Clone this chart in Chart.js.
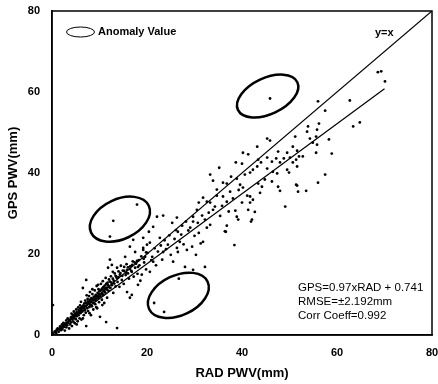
<!DOCTYPE html>
<html>
<head>
<meta charset="utf-8">
<script src="https://cdn.jsdelivr.net/npm/chart.js@4.4.1/dist/chart.umd.min.js"></script>
<style>
  html, body { margin: 0; padding: 0; background: #fff; }
  #wrap { width: 438px; height: 384px; }
</style>
</head>
<body>
<div id="wrap"><canvas id="chart"></canvas></div>
<script>
// RAD PWV (x) vs GPS PWV (y), mm
const samples = [
  [0.6,0.9],[0.9,0.5],[1.2,1.6],[1.4,0.8],[1.7,2.1],[1.9,1.2],[2.1,2.6],[2.2,1.5],[2.4,3.0],[2.5,2.0],
  [2.7,1.1],[2.8,2.8],[3.0,3.6],[3.0,1.9],[3.2,2.4],[3.3,4.1],[3.4,3.0],[3.6,1.6],[3.7,3.5],[3.8,2.6],
  [4.0,4.4],[4.0,3.1],[4.1,5.3],[4.2,2.2],[4.3,3.8],[4.4,4.9],[4.5,3.3],[4.6,5.8],[4.7,4.2],[4.8,2.9],
  [4.9,5.1],[5.0,3.9],[5.1,6.3],[5.2,4.6],[5.3,5.5],[5.4,3.4],[5.5,6.8],[5.6,4.9],[5.7,5.9],[5.8,4.1],
  [5.9,7.3],[6.0,5.4],[6.1,6.4],[6.2,3.8],[6.3,7.0],[6.4,5.8],[6.5,11.6],[6.6,6.7],[6.7,4.9],[6.8,7.8],
  [6.9,6.1],[7.0,8.5],[7.1,5.5],[7.2,13.6],[7.2,7.2],[7.2,2.2],[7.4,6.6],[7.5,8.9],[7.6,5.9],[7.7,7.9],
  [7.8,9.6],[7.9,6.9],[8.0,10.6],[8.0,7.5],[8.1,8.4],[8.2,4.9],[8.3,9.1],[8.4,7.1],[8.5,10.1],[8.6,8.0],
  [8.7,6.3],[8.8,9.4],[8.9,8.6],[9.0,11.0],[9.1,7.6],[9.2,9.9],[9.3,8.9],[9.4,12.1],[9.5,6.6],[9.6,10.4],
  [9.7,9.1],[9.8,11.3],[9.9,8.1],[10.0,10.8],[10.1,4.5],[10.2,9.6],[10.3,12.6],[10.4,10.1],[10.5,8.7],[10.6,11.5],
  [10.7,13.3],[10.8,9.9],[10.9,11.0],[11.0,7.9],[11.1,12.2],[11.2,10.5],[11.3,14.1],[11.4,3.2],[11.5,11.7],[11.6,9.2],
  [11.7,12.9],[11.8,16.6],[11.9,10.9],[12.0,13.7],[12.2,18.6],[12.3,11.6],[12.4,14.5],[12.6,17.3],[12.6,12.3],[12.8,15.6],
  [12.9,10.4],[13.0,13.4],[13.2,15.2],[13.4,12.0],[13.5,14.4],[13.7,1.7],[13.7,16.6],[13.8,13.1],[14.0,15.7],[14.2,11.9],
  [14.3,14.9],[14.5,17.1],[14.7,13.6],[14.9,15.9],[15.1,12.6],[15.2,16.8],[15.4,19.3],[15.5,14.8],[15.7,17.5],[15.8,10.6],
  [15.8,16.1],[16.0,15.2],[16.2,13.9],[16.4,9.2],[16.4,21.8],[16.5,17.0],[16.7,15.8],[16.8,9.9],[16.8,15.6],[17.0,18.2],
  [17.1,23.5],[17.2,14.4],[17.5,16.6],[17.5,20.5],[17.7,17.6],[18.0,15.1],[18.1,12.4],[18.1,16.8],[18.3,18.5],[18.6,13.4],
  [18.9,14.9],[19.2,21.0],[19.2,24.0],[19.2,21.5],[19.4,17.9],[19.6,19.3],[19.8,16.2],[20.0,22.3],[20.1,20.3],[20.4,25.5],
  [20.6,15.6],[20.6,22.8],[20.9,18.5],[21.1,19.3],[21.3,18.1],[21.3,26.7],[21.6,21.4],[21.9,17.2],[22.1,29.2],[22.3,20.6],
  [22.7,24.0],[22.9,22.1],[23.2,18.6],[23.4,20.5],[23.4,29.5],[23.7,23.4],[24.0,21.2],[24.4,22.3],[24.7,24.6],[25.0,19.8],
  [25.3,27.7],[25.5,18.1],[25.8,23.7],[26.1,25.9],[26.3,21.5],[26.3,29.0],[26.5,20.5],[26.5,25.5],[26.9,23.0],[27.2,24.8],
  [27.4,27.0],[27.7,22.4],[28.0,16.8],[28.2,28.0],[28.4,21.0],[28.7,25.8],[29.1,26.5],[29.5,21.8],[29.7,16.1],[29.7,28.0],
  [29.7,29.2],[30.0,24.5],[30.3,19.8],[30.5,30.9],[30.7,27.7],[30.9,25.2],[30.9,32.7],[31.3,22.6],[31.6,29.5],[31.8,23.0],
  [31.8,33.9],[32.2,16.8],[32.2,28.5],[32.6,26.5],[32.6,32.9],[33.0,30.2],[33.3,27.2],[33.3,32.7],[33.3,39.6],[33.9,30.9],
  [33.9,38.1],[34.3,31.7],[34.7,34.4],[34.7,35.9],[35.2,41.3],[35.4,29.4],[35.8,31.9],[36.0,34.2],[36.0,37.6],[36.4,25.6],
  [36.6,25.5],[36.8,27.0],[36.8,32.9],[36.8,37.4],[37.2,30.5],[37.5,35.4],[37.7,39.1],[38.1,33.7],[38.4,22.2],[38.6,30.7],
  [38.7,42.6],[38.9,29.2],[38.9,38.6],[39.2,28.5],[39.3,35.8],[39.6,37.1],[40.0,32.7],[40.0,42.3],[40.2,36.4],[40.2,45.0],
  [40.6,39.6],[41.1,34.4],[41.3,30.9],[41.3,44.6],[41.7,32.7],[41.7,34.2],[41.7,40.1],[41.9,28.0],[42.1,28.5],[42.3,33.4],
  [42.3,40.8],[42.7,30.4],[43.2,41.6],[43.2,46.5],[43.4,37.4],[43.4,43.3],[43.8,35.1],[44.0,42.6],[44.2,36.6],[44.8,38.4],
  [45.3,41.1],[45.3,43.8],[45.3,48.5],[45.9,48.0],[46.3,37.9],[46.3,42.8],[46.5,40.3],[47.2,43.6],[47.4,39.9],[47.6,36.6],
  [47.6,45.3],[48.0,35.6],[48.0,42.6],[48.8,43.6],[49.1,31.7],[49.5,40.8],[49.5,45.0],[49.9,40.1],[50.1,43.8],[50.7,42.6],
  [50.7,46.5],[51.2,49.0],[51.4,43.3],[51.4,37.1],[51.6,36.9],[51.6,41.6],[51.6,45.5],[51.8,35.4],[52.0,44.1],[52.8,44.1],
  [53.5,35.6],[53.7,50.2],[53.9,51.5],[54.3,48.5],[54.9,47.5],[55.6,45.0],[55.6,49.0],[55.8,47.0],[55.8,50.7],[56.0,57.7],
  [56.0,37.6],[56.2,52.2],[57.5,55.4],[57.5,39.6],[58.3,48.3],[58.9,44.8],[62.7,57.9],[63.4,51.5],[64.8,52.5],[68.6,64.9],
  [69.3,65.1],[70.1,62.6],
  // the dense low-end band
  [1.0,1.3],[1.5,1.4],[1.8,1.7],[2.0,2.0],[2.3,2.2],[2.6,2.4],[2.9,2.5],[3.1,3.0],[3.5,3.8],[3.9,3.9],
  [4.2,4.0],[4.4,4.5],[4.6,4.6],[4.8,5.3],[5.0,5.0],[5.2,5.6],[5.4,5.2],[5.6,6.2],[5.8,5.7],[6.0,6.6],
  [6.2,6.0],[6.4,6.9],[6.6,7.3],[6.8,6.5],[7.0,7.1],[7.2,7.9],[7.4,7.5],[7.6,8.3],[7.8,7.8],[8.0,8.7],
  [8.2,8.1],[8.4,9.0],[8.6,8.8],[8.8,7.9],[9.0,9.5],[9.2,8.6],[9.4,9.8],[9.6,9.4],[9.8,10.2],[10.0,9.5],
  [10.2,10.9],[10.4,11.2],[10.6,10.4],[10.8,11.8],[11.0,10.9],[11.2,11.5],[11.4,12.6],[11.6,11.2],[11.8,12.3],[12.0,11.8],
  [12.2,13.2],[12.5,12.9],[12.8,13.9],[13.1,12.7],[13.4,14.6],[13.7,14.0],[14.0,14.3],[14.4,15.3],[14.8,14.6],[15.2,15.8],
  [15.6,15.4],[16.0,16.7],[16.4,16.3],[16.9,17.3],[17.4,17.9],[17.9,18.3],[18.4,17.2],[18.8,19.4],[19.3,18.8],[19.8,20.4],
  [6.1,8.2],[7.3,9.8],[8.5,11.3],[9.7,12.4],[5.2,2.6],[6.5,4.1],[7.9,5.4],[9.3,6.9],[10.6,7.4],
  // points inside the anomaly circles
  [45.9,58.4],[17.9,32.2],[12.9,28.2],[12.2,24.3],[26.7,13.9],[21.5,7.9],[23.6,5.7],[0.2,7.4]
];

// reference lines
const identityLine = [[0, 0], [80, 80]];
const fitLine = [[0, 0.3], [70, 60.8]];

// anomaly circles: centre and half-axes in mm, tilt in degrees
const anomalyZones = [
  { cx: 45.4, cy: 59.0, a: 6.9, b: 3.8, tilt: -25 },
  { cx: 14.3, cy: 28.6, a: 6.7, b: 4.2, tilt: -25 },
  { cx: 26.6, cy: 9.8, a: 6.8, b: 4.2, tilt: -25 }
];

const statLines = ["GPS=0.97xRAD + 0.741", "RMSE=\u00b12.192mm", "Corr Coeff=0.992"];
const axisTicks = [0, 20, 40, 60, 80];

const FONT = "'Liberation Sans', Arial, sans-serif";

const overlay = {
  id: "overlay",
  afterDraw(chart) {
    const { ctx, chartArea: area, scales: { x, y } } = chart;
    const ppu = x.getPixelForValue(1) - x.getPixelForValue(0);
    ctx.save();

    // frame
    ctx.strokeStyle = "#000";
    ctx.lineWidth = 1.5;
    ctx.strokeRect(area.left, area.top, area.right - area.left, area.bottom - area.top);

    // anomaly ellipses
    ctx.lineWidth = 2.5;
    anomalyZones.forEach((z) => {
      ctx.beginPath();
      ctx.ellipse(x.getPixelForValue(z.cx), y.getPixelForValue(z.cy),
        z.a * ppu, z.b * ppu, (z.tilt * Math.PI) / 180, 0, Math.PI * 2);
      ctx.stroke();
    });

    // legend
    ctx.lineWidth = 1;
    ctx.beginPath();
    ctx.ellipse(area.left + 28.5, area.top + 21, 14, 5, 0, 0, Math.PI * 2);
    ctx.stroke();
    ctx.fillStyle = "#000";
    ctx.textBaseline = "middle";
    ctx.textAlign = "left";
    ctx.font = "bold 11px " + FONT;
    ctx.fillText("Anomaly Value", area.left + 46, area.top + 21);
    ctx.fillText("y=x", area.right - 57, area.top + 22);

    // regression stats
    ctx.font = "11.5px " + FONT;
    statLines.forEach((t, i) => {
      ctx.fillText(t, area.right - 134, area.bottom - 47 + i * 14);
    });
    ctx.restore();
  }
};

function axisOptions(title, isX) {
  return {
    type: "linear",
    min: 0,
    max: 80,
    afterBuildTicks: (scale) => {
      scale.ticks = axisTicks.map((v) => ({ value: v }));
    },
    afterFit: (scale) => {
      // keep the plot box where the reference has it
      scale.paddingLeft = 0;
      scale.paddingRight = 0;
      scale.paddingTop = 0;
      scale.paddingBottom = 0;
      if (isX) scale.height = 49;
      else scale.width = 52;
    },
    grid: { display: false, drawTicks: false, tickLength: 0 },
    border: { display: true, color: "#000", width: 1.5 },
    ticks: {
      color: "#000",
      padding: isX ? 11 : 12,
      font: { family: FONT, size: 11, weight: "bold" }
    },
    title: {
      display: true,
      text: title,
      color: "#000",
      font: { family: FONT, size: 13, weight: "bold" },
      padding: isX ? { top: 0, bottom: 3 } : { top: 6, bottom: 0 }
    }
  };
}

new Chart(document.getElementById("chart"), {
  type: "scatter",
  data: {
    datasets: [
      {
        label: "samples",
        data: samples.map(([rad, gps]) => ({ x: rad, y: gps })),
        pointRadius: 1.4,
        pointBackgroundColor: "#000",
        pointBorderWidth: 0
      },
      {
        label: "y=x",
        data: identityLine.map(([a, b]) => ({ x: a, y: b })),
        showLine: true,
        pointRadius: 0,
        borderColor: "#000",
        borderWidth: 1.2
      },
      {
        label: "fit",
        data: fitLine.map(([a, b]) => ({ x: a, y: b })),
        showLine: true,
        pointRadius: 0,
        borderColor: "#000",
        borderWidth: 1.2
      }
    ]
  },
  options: {
    responsive: true,
    maintainAspectRatio: false,
    animation: false,
    layout: { padding: { top: 11, right: 6, left: 0, bottom: 0 } },
    scales: {
      x: axisOptions("RAD PWV(mm)", true),
      y: axisOptions("GPS PWV(mm)", false)
    },
    plugins: {
      legend: { display: false },
      tooltip: { enabled: false }
    }
  },
  plugins: [overlay]
});
</script>
</body>
</html>
